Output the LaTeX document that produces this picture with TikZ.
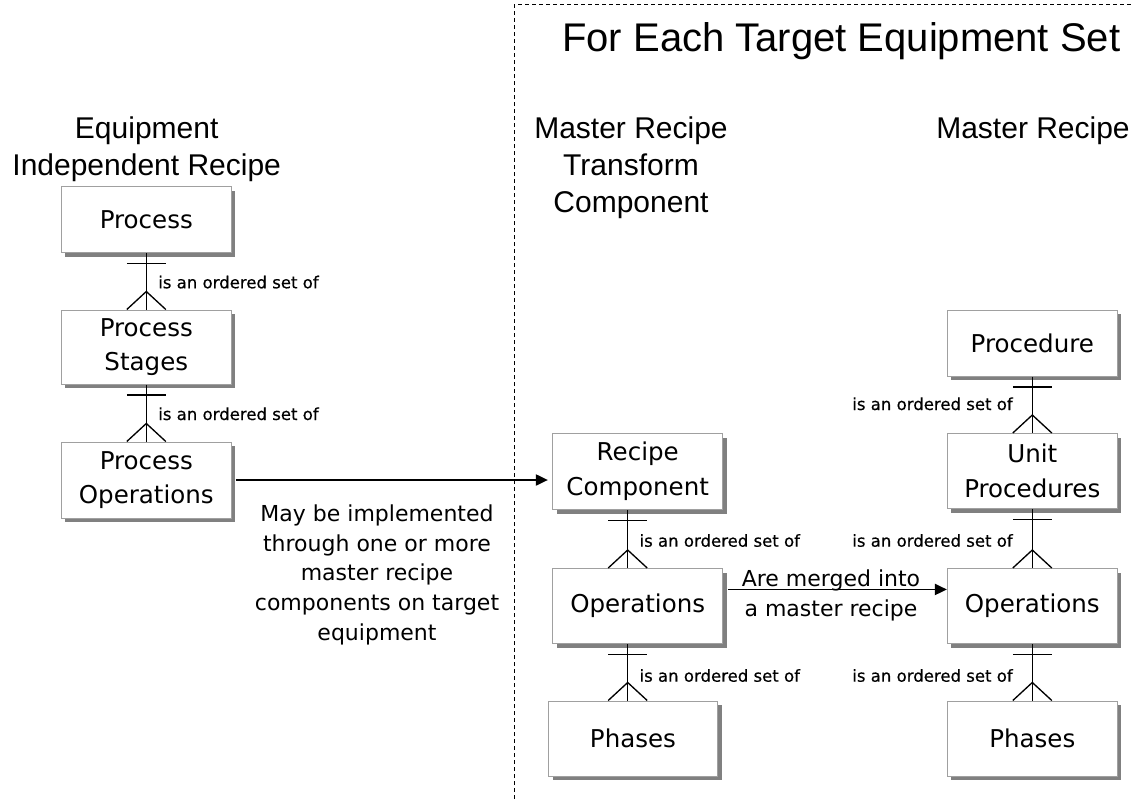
\documentclass[tikz,border=0pt]{standalone}
\usepackage{fontspec}
\setmainfont{DejaVu Sans}
\newfontfamily\headfont{Liberation Sans}
\newfontface\relfont{DejaVu Sans}[FakeBold=0.5]
\usepackage{tikz}
\usetikzlibrary{arrows.meta, calc, shadows}
\definecolor{boxgray}{RGB}{160, 160, 160}
\definecolor{shadowgray}{RGB}{128, 128, 128}
\tikzstyle{entity} = [draw=boxgray, fill=white, line width=0.75pt, minimum width=127.5pt,
                      inner sep=0pt, align=center, font=\fontsize{18.4}{26}\selectfont,
                      drop shadow={shadow xshift=3pt, shadow yshift=-3pt, fill=shadowgray, opacity=1}]
\tikzstyle{heading} = [font=\headfont\fontsize{22.5}{27.75}\selectfont, align=center, anchor=north, inner sep=0pt]
\tikzstyle{relation} = [font=\relfont\fontsize{12.4}{15}\selectfont, inner sep=0pt]
\tikzstyle{note} = [font=\fontsize{16.5}{22.35}\selectfont, align=center, anchor=north, inner sep=0pt]
\tikzstyle{link} = [line width=1pt]
\tikzstyle{flow} = [-{Triangle[length=9pt, width=8.5pt]}, line width=0.9pt]
% one-to-many link: bar under the upper box, crow's foot on the lower box
\newcommand{\onemany}[3]{%
  \coordinate (top) at ($(#1.south)+(#3,0)$);
  \coordinate (bot) at (top |- #2.north);
  \draw[link] (top) -- (bot);
  \draw[link] ($(top)+(-19.5,10.5)$) -- ($(top)+(19.5,10.5)$);
  \draw[link] ($(bot)+(-19.5,0)$) -- ($(bot)+(0,-18)$) -- ($(bot)+(19.5,0)$);
}

\begin{document}
\begin{tikzpicture}[x=0.75pt, y=-0.75pt]
  \useasboundingbox (0,0) rectangle (1131,799);
  % frame of the target equipment part
  \draw[dash pattern=on 3pt off 2.25pt, line width=0.75pt] (514,799) -- (514,5) -- (1131,5);
  \node[font=\headfont\fontsize{30}{36}\selectfont, anchor=base west, inner sep=0pt] (title) at (562, 51.7) {For Each Target Equipment Set};
  \node[heading] (eirhead) at (146.7, 116.5) {Equipment\\Independent Recipe};
  \node[heading] (mrtchead) at (631, 116.5) {Master Recipe\\Transform\\Component};
  \node[heading] (mrhead) at (1033, 116.5) {Master Recipe};

  % equipment independent recipe
  \node[entity, minimum height=49.5pt] (proc) at (146.3, 219.7) {Process};
  \node[entity, minimum height=55.5pt] (pstage) at (146.3, 347) {Process\\Stages};
  \node[entity, minimum height=57pt] (pops) at (146.3, 480) {Process\\Operations};
  \onemany{proc}{pstage}{0}
  \onemany{pstage}{pops}{0}
  \node[relation, anchor=base west] (lblpa) at (158, 288.3) {is an ordered set of};
  \node[relation, anchor=base west] (lblpb) at (158, 420) {is an ordered set of};

  % master recipe transform component
  \node[entity, minimum height=57pt] (rcomp) at (637.7, 471.5) {Recipe\\Component};
  \node[entity, minimum height=56.25pt] (mops) at (637.7, 606) {Operations};
  \node[entity, minimum height=56.25pt, minimum width=126.75pt] (mphase) at (633, 738.5) {Phases};
  \onemany{rcomp}{mops}{-10}
  \onemany{mops}{mphase}{-10}
  \node[relation, anchor=base west] (lblma) at (639.3, 546.7) {is an ordered set of};
  \node[relation, anchor=base west] (lblmb) at (639.3, 681.7) {is an ordered set of};

  % master recipe
  \node[entity, minimum height=49.5pt] (proced) at (1032.3, 343) {Procedure};
  \node[entity, minimum height=56.25pt] (uproc) at (1032.3, 471) {Unit\\Procedures};
  \node[entity, minimum height=56.25pt] (rops) at (1032.3, 606) {Operations};
  \node[entity, minimum height=56.25pt] (rphase) at (1032.3, 738.5) {Phases};
  \onemany{proced}{uproc}{0}
  \onemany{uproc}{rops}{0}
  \onemany{rops}{rphase}{0}
  \node[relation, anchor=base east] (lblra) at (1013, 410) {is an ordered set of};
  \node[relation, anchor=base east] (lblrb) at (1013, 546.7) {is an ordered set of};
  \node[relation, anchor=base east] (lblrc) at (1013, 681.7) {is an ordered set of};

  % transformations
  \draw[flow, shorten <=3pt, shorten >=3.3pt] (pops.east) -- (pops.east -| rcomp.west);
  \node[note] (implnote) at (377, 504.3) {May be implemented\\through one or more\\master recipe\\components on target\\equipment};
  \draw[flow, shorten <=3.5pt] ([yshift=12.4pt]mops.east) -- ([yshift=12.4pt]mops.east -| rops.west);
  \node[note] (mergenote) at (831, 570) {Are merged into\\a master recipe};
\end{tikzpicture}
\end{document}
